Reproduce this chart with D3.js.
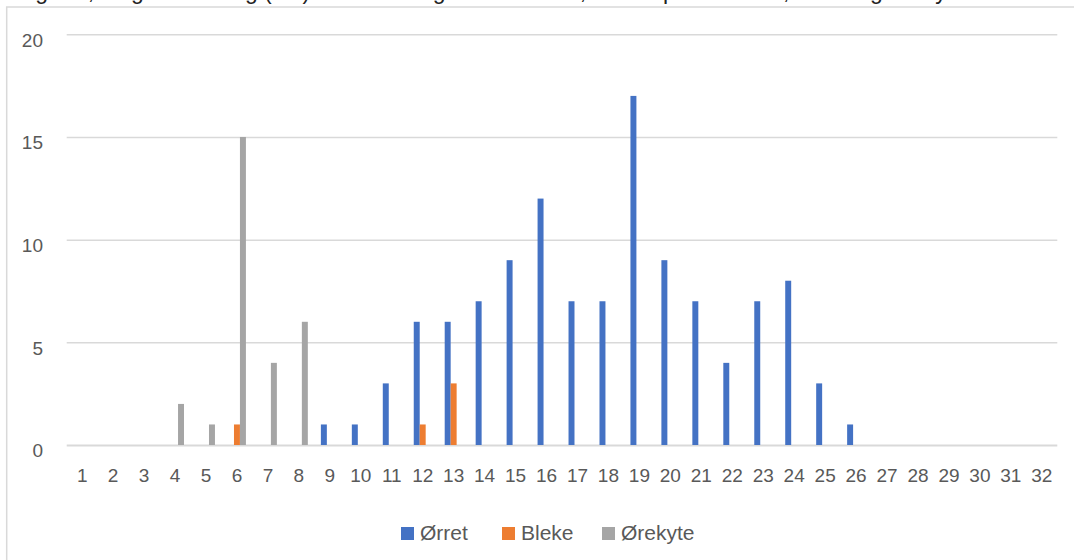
<!DOCTYPE html>
<html lang="no">
<head>
    <meta charset="UTF-8">
    <script src="https://cdn.jsdelivr.net/npm/d3@7"></script>
    <title>Lengdefordeling</title>
    <style>
        body { margin: 0; background: white; }
        svg { display: block; font-family: 'Liberation Sans', Arial, sans-serif; }
        .tick text { fill: #595959; }
    </style>
</head>
<body>
    <div id="chart"></div>
    <script>
        // Data
        const categories = ["1", "2", "3", "4", "5", "6", "7", "8", "9", "10", "11", "12", "13", "14", "15", "16",
            "17", "18", "19", "20", "21", "22", "23", "24", "25", "26", "27", "28", "29", "30", "31", "32"];
        const seriesNames = ["Ørret", "Bleke", "Ørekyte"];
        const orret   = [0, 0, 0, 0, 0, 0, 0, 0, 1, 1, 3, 6, 6, 7, 9, 12, 7, 7, 17, 9, 7, 4, 7, 8, 3, 1, 0, 0, 0, 0, 0, 0];
        const bleke   = [0, 0, 0, 0, 0, 1, 0, 0, 0, 0, 0, 1, 3, 0, 0, 0, 0, 0, 0, 0, 0, 0, 0, 0, 0, 0, 0, 0, 0, 0, 0, 0];
        const orekyte = [0, 0, 0, 2, 1, 15, 4, 6, 0, 0, 0, 0, 0, 0, 0, 0, 0, 0, 0, 0, 0, 0, 0, 0, 0, 0, 0, 0, 0, 0, 0, 0];
        const yTicks = [0, 5, 10, 15, 20];

        const colors = ["#4472C4", "#ED7D31", "#A5A5A5"];
        const width = 1074, height = 560;
        const plot = { left: 66.7, right: 1057.3, top: 34.3, bottom: 445 };

        const svg = d3.select("#chart").append("svg")
            .attr("width", width)
            .attr("height", height);

        // chart area border (right and bottom edges run off the picture)
        svg.append("rect")
            .attr("x", 6.7).attr("y", 7)
            .attr("width", 1100).attr("height", 600)
            .attr("fill", "none")
            .attr("stroke", "#d9d9d9")
            .attr("stroke-width", 1.5);

        // title, cut off at the top edge: only descenders show
        svg.append("text")
            .attr("x", 537).attr("y", -1.5)
            .attr("text-anchor", "middle")
            .attr("font-size", 23)
            .attr("fill", "#222")
            .text("Figur 3, lengdefordeling (cm) hos fisk fanget ved elfiske, fordelt på art: ørret, bleke og ørekyte i bekken");

        const x = d3.scaleBand()
            .domain(categories)
            .range([plot.left, plot.right])
            .paddingInner(0.4217)
            .paddingOuter(0.21085);

        const x1 = d3.scaleBand()
            .domain(seriesNames)
            .range([0, x.bandwidth()]);

        const y = d3.scaleLinear()
            .domain([0, 20])
            .range([plot.bottom, plot.top]);

        // y axis + gridlines
        const yAxis = svg.append("g")
            .attr("transform", `translate(${plot.left},0)`)
            .call(d3.axisLeft(y).tickValues(yTicks).tickSize(-(plot.right - plot.left)).tickPadding(23.7));
        yAxis.select(".domain").remove();
        yAxis.selectAll(".tick line")
            .attr("stroke", "#d9d9d9")
            .attr("stroke-width", d => d === 0 ? 2 : 1.5);
        yAxis.selectAll(".tick text")
            .attr("font-size", 19)
            .attr("dy", "0.62em");

        // x axis labels
        const xAxis = svg.append("g")
            .attr("transform", `translate(0,${plot.bottom})`)
            .call(d3.axisBottom(x).tickSize(0).tickPadding(24));
        xAxis.select(".domain").remove();
        xAxis.selectAll(".tick text")
            .attr("font-size", 19);

        // bars
        const allSeries = [orret, bleke, orekyte];
        allSeries.forEach((values, s) => {
            const rows = categories.map((c, i) => ({ cat: c, value: values[i] })).filter(d => d.value > 0);
            svg.append("g").selectAll("rect")
                .data(rows)
                .enter()
                .append("rect")
                .attr("x", d => x(d.cat) + x1(seriesNames[s]))
                .attr("y", d => y(d.value))
                .attr("width", x1.bandwidth())
                .attr("height", d => y(0) - y(d.value))
                .attr("fill", colors[s]);
        });

        // legend
        const legendX = [401, 502, 602];
        const legend = svg.append("g");
        seriesNames.forEach((name, i) => {
            legend.append("rect")
                .attr("x", legendX[i]).attr("y", 527)
                .attr("width", 13).attr("height", 13)
                .attr("fill", colors[i]);
            legend.append("text")
                .attr("x", legendX[i] + 19).attr("y", 540)
                .attr("font-size", 21)
                .attr("fill", "#595959")
                .text(name);
        });
    </script>
</body>
</html>
